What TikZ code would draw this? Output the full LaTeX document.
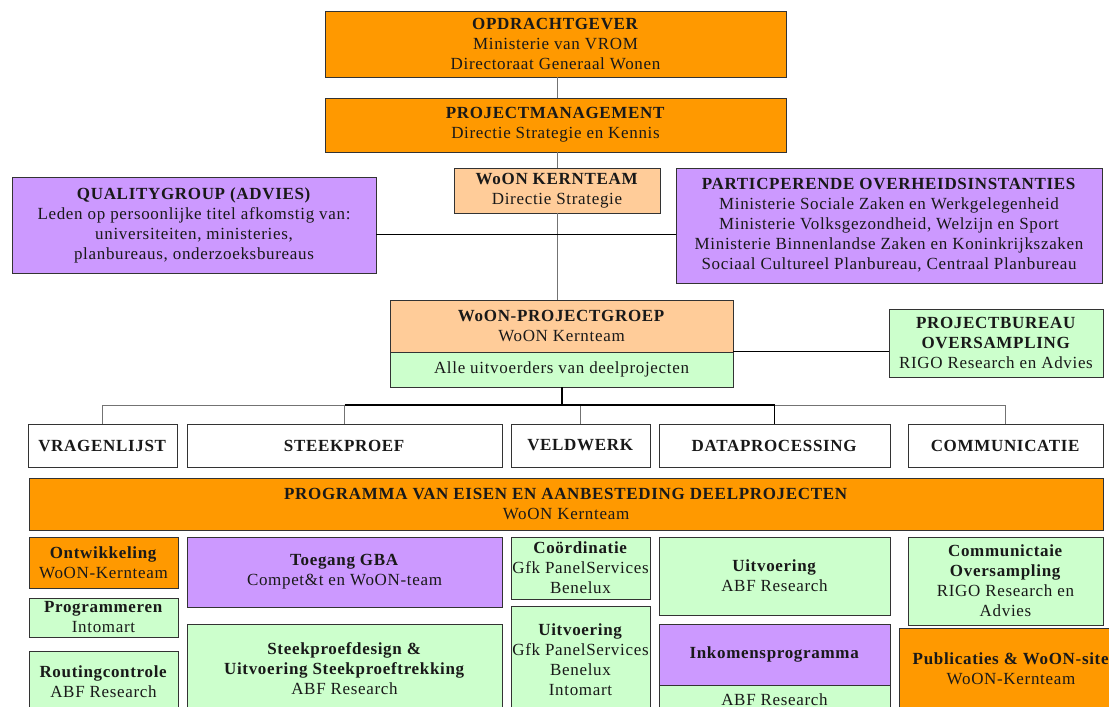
\documentclass[tikz,border=0pt]{standalone}
\usepackage{fontspec}
\setmainfont{Liberation Serif}[LetterSpace=4]
\definecolor{orgc}{HTML}{FF9900}
\definecolor{peachc}{HTML}{FFCC99}
\definecolor{purpc}{HTML}{CC99FF}
\definecolor{greenc}{HTML}{CCFFCC}
\begin{document}
\begin{tikzpicture}[x=1pt,y=-1pt,
  box/.style={draw=black!80, line width=0.8pt, align=center, inner sep=0pt,
    font=\fontsize{17}{20}\selectfont, text=black!90},
  obox/.style={box, fill=orgc},
  pbox/.style={box, fill=peachc},
  ubox/.style={box, fill=purpc},
  gbox/.style={box, fill=greenc},
  wbox/.style={box, fill=white},
  conn/.style={draw=black!55, line width=0.8pt},
  mainconn/.style={draw=black, line width=1.3pt}]
\useasboundingbox (0,0) rectangle (1109,707);
\fill[white] (0,0) rectangle (1109,707);
\begin{scope}
\clip (0,0) rectangle (1109,707);
% top
\node[obox, minimum width=461, minimum height=66] (opd) at (555.5,44)
  {\textbf{OPDRACHTGEVER}\\Ministerie van VROM\\Directoraat Generaal Wonen};
\node[obox, minimum width=461, minimum height=54] (pm) at (555.5,125)
  {\textbf{PROJECTMANAGEMENT}\\Directie Strategie en Kennis};
\node[pbox, minimum width=206, minimum height=45] (kern) at (557,190.5)
  {\textbf{WoON KERNTEAM}\\Directie Strategie};
\node[ubox, minimum width=364, minimum height=96] (qual) at (194,225)
  {\textbf{QUALITYGROUP (ADVIES)}\\Leden op persoonlijke titel afkomstig van:\\universiteiten, ministeries,\\planbureaus, onderzoeksbureaus};
\node[ubox, minimum width=426, minimum height=115] (part) at (889,225.5)
  {\textbf{PARTICPERENDE OVERHEIDSINSTANTIES}\\Ministerie Sociale Zaken en Werkgelegenheid\\Ministerie Volksgezondheid, Welzijn en Sport\\Ministerie Binnenlandse Zaken en Koninkrijkszaken\\Sociaal Cultureel Planbureau, Centraal Planbureau};
\node[pbox, minimum width=343, minimum height=52] (pg) at (561.5,326)
  {\textbf{WoON-PROJECTGROEP}\\WoON Kernteam};
\node[gbox, minimum width=343, minimum height=35] (pgb) at (561.5,369.5)
  {Alle uitvoerders van deelprojecten};
\node[gbox, minimum width=214, minimum height=68] (pb) at (996,343)
  {\textbf{PROJECTBUREAU}\\\textbf{OVERSAMPLING}\\RIGO Research en Advies};
% row of work packages
\node[wbox, minimum width=149, minimum height=43] (vr) at (102.5,445.5) {\textbf{VRAGENLIJST}};
\node[wbox, minimum width=315, minimum height=43] (sp) at (344.5,445.5) {\textbf{STEEKPROEF}};
\node[wbox, minimum width=139, minimum height=43] (vw) at (580.5,445.5) {\textbf{VELDWERK}};
\node[wbox, minimum width=231, minimum height=43] (dp) at (774.5,445.5) {\textbf{DATAPROCESSING}};
\node[wbox, minimum width=195, minimum height=43] (cm) at (1005.5,445.5) {\textbf{COMMUNICATIE}};
\node[obox, minimum width=1074, minimum height=52] (prog) at (566,504)
  {\textbf{PROGRAMMA VAN EISEN EN AANBESTEDING DEELPROJECTEN}\\WoON Kernteam};
% bottom boxes
\node[obox, minimum width=149, minimum height=51] (ont) at (103.5,562.5)
  {\textbf{Ontwikkeling}\\WoON-Kernteam};
\node[gbox, minimum width=149, minimum height=39] (prm) at (103.5,617.5)
  {\textbf{Programmeren}\\Intomart};
\node[gbox, minimum width=149, minimum height=62] (rout) at (103.5,682)
  {\textbf{Routingcontrole}\\ABF Research};
\node[ubox, minimum width=315, minimum height=70] (tg) at (344.5,572)
  {\textbf{Toegang GBA}\\Compet\&t en WoON-team};
\node[gbox, minimum width=315, minimum height=90] (sd) at (344.5,669)
  {\textbf{Steekproefdesign \&}\\\textbf{Uitvoering Steekproeftrekking}\\ABF Research};
\node[gbox, minimum width=139, minimum height=62] (co) at (580.5,568)
  {\textbf{Coördinatie}\\Gfk PanelServices\\Benelux};
\node[gbox, minimum width=139, minimum height=108] (ug) at (580.5,660)
  {\textbf{Uitvoering}\\Gfk PanelServices\\Benelux\\Intomart};
\node[gbox, minimum width=231, minimum height=78] (ua) at (774.5,576)
  {\textbf{Uitvoering}\\ABF Research};
\node[ubox, minimum width=231, minimum height=61] (ik) at (774.5,654.5)
  {\textbf{Inkomensprogramma}};
\node[gbox, minimum width=231, minimum height=30] (ikb) at (774.5,700)
  {ABF Research};
\node[gbox, minimum width=195, minimum height=88] (cmo) at (1005.5,581)
  {\textbf{Communictaie}\\\textbf{Oversampling}\\RIGO Research en\\Advies};
\node[obox, minimum width=224, minimum height=82] (pub) at (1011,669)
  {\textbf{Publicaties \& WoON-site}\\WoON-Kernteam};
% connectors
\coordinate (hy) at (557,234);
\coordinate (busy) at (562,405);
\draw[conn] (opd.south -| kern.north) -- (pm.north -| kern.north);
\draw[conn] (pm.south -| kern.north) -- (kern.north);
\draw[conn] (kern.south) -- (kern.south |- pg.north);
\draw[mainconn, line width=0.8pt, draw=black] (qual.east |- hy) -- (part.west |- hy);
\draw[mainconn, line width=0.8pt, draw=black] (pgb.north east) -- (pgb.north east -| pb.west);
\draw[conn] (vr.north) |- (cm.north |- busy) -- (cm.north);
\draw[conn] (vw.north) -- (vw.north |- busy);
\draw[conn] (sp.north) -- (sp.north |- busy);
\draw[mainconn] (sp.north |- busy) -- (dp.north |- busy) -- (dp.north);
\draw[mainconn] (pgb.south -| busy) -- (busy);
\end{scope}
\end{tikzpicture}
\end{document}
